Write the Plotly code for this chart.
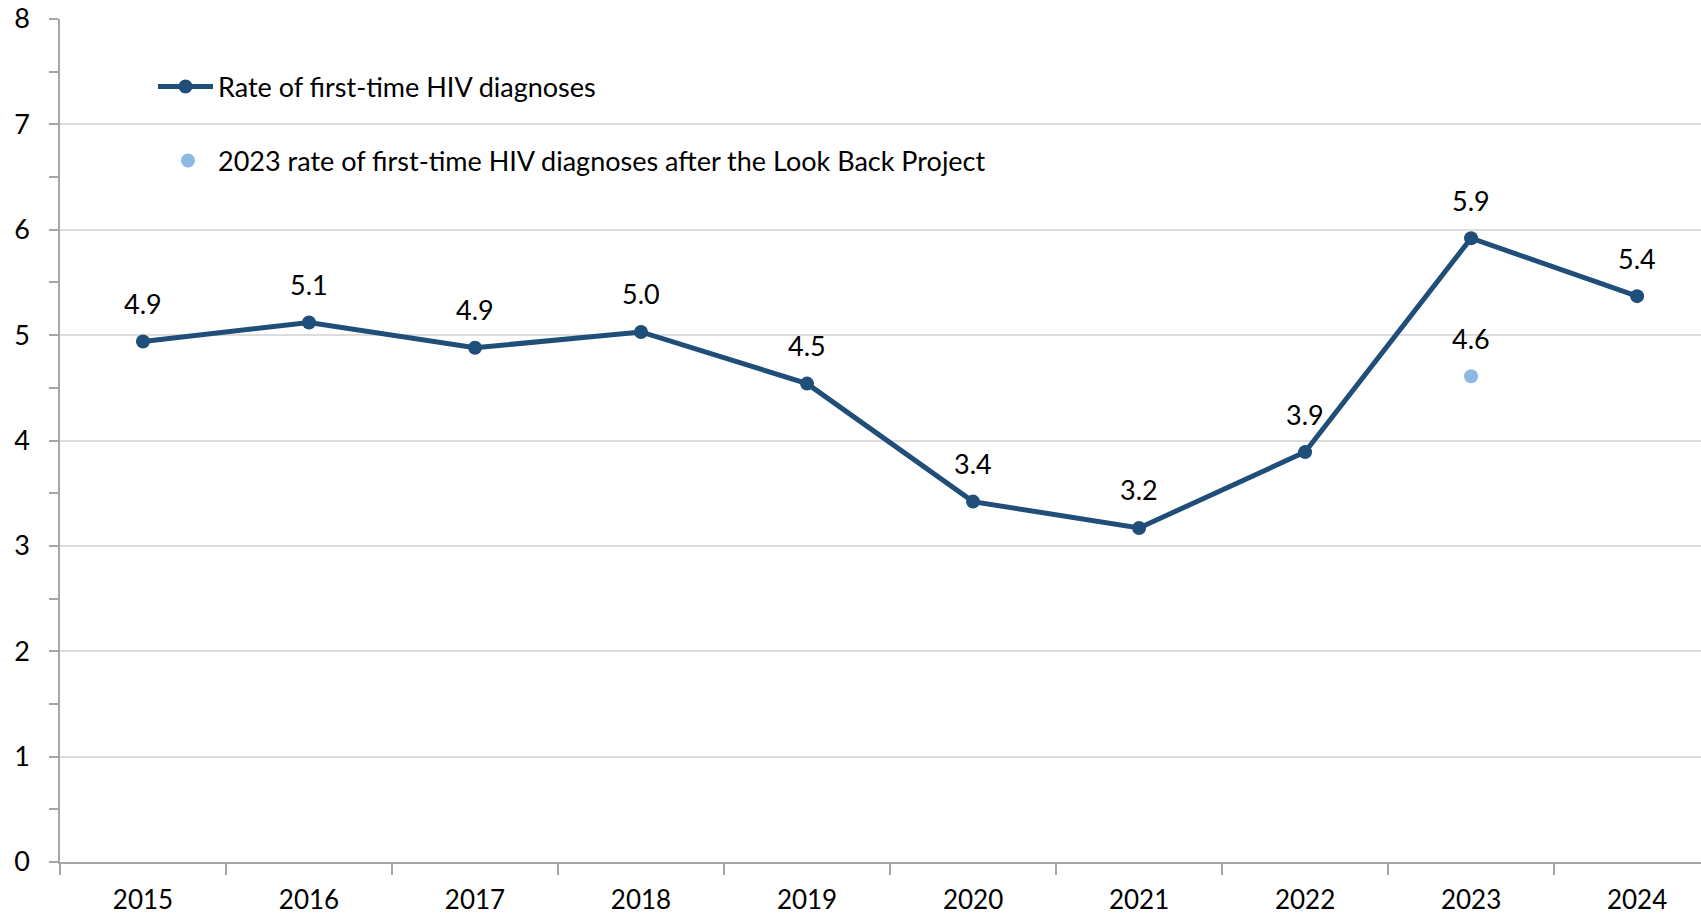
import plotly.graph_objects as go

years = ["2015", "2016", "2017", "2018", "2019", "2020", "2021", "2022", "2023", "2024"]
rates = [4.94, 5.12, 4.88, 5.03, 4.54, 3.42, 3.17, 3.89, 5.92, 5.37]
lookback_year = ["2023"]
lookback_rate = [4.61]

series_name = "Rate of first-time HIV diagnoses"
lookback_name = "2023 rate of first-time HIV diagnoses after the Look Back Project"
y_ticks = [0, 1, 2, 3, 4, 5, 6, 7, 8]

DARK = "#1F4E79"
LIGHT = "#8DB9E3"
FONT = "Lato"

W, H = 1701, 915
L, T, B = 60, 19, 53
PW, PH = W - L, H - T - B

fig = go.Figure()
fig.add_trace(go.Scatter(
    x=years, y=rates, mode="lines+markers", name=series_name,
    line=dict(color=DARK, width=5), marker=dict(color=DARK, size=14),
    legend="legend", cliponaxis=False,
))
fig.add_trace(go.Scatter(
    x=lookback_year, y=lookback_rate, mode="markers", name=lookback_name,
    marker=dict(color=LIGHT, size=14), legend="legend2", cliponaxis=False,
))

for xs, ys in ((years, rates), (lookback_year, lookback_rate)):
    for xv, yv in zip(xs, ys):
        fig.add_annotation(x=years.index(xv), y=yv, text=f"{yv:.1f}", showarrow=False,
                           xref="x", yref="y", yshift=38,
                           font=dict(family=FONT, size=27, color="#000000"))

fig.update_layout(
    width=W, height=H,
    margin=dict(l=L, r=0, t=T, b=B, autoexpand=False),
    paper_bgcolor="white", plot_bgcolor="white",
    font=dict(family=FONT, size=27, color="#000000"),
    showlegend=True,
    legend=dict(x=(153 - L) / PW, y=(H - B - 87) / PH, xanchor="left", yanchor="middle",
                bgcolor="rgba(0,0,0,0)", font=dict(family=FONT, size=27), itemwidth=55),
    legend2=dict(x=(158 - L) / PW, y=(H - B - 161) / PH, xanchor="left", yanchor="middle",
                 bgcolor="rgba(0,0,0,0)", font=dict(family=FONT, size=27), itemwidth=50),
)
fig.update_xaxes(
    type="category", range=[-0.5, 9.385], tickson="boundaries",
    ticks="outside", ticklen=11, tickcolor="#A6A6A6", tickwidth=1.5,
    showline=True, linecolor="#A6A6A6", linewidth=1.5,
    showgrid=False, ticklabelstandoff=14,
    tickfont=dict(family=FONT, size=26),
)
fig.update_yaxes(
    range=[0, 8], tickvals=y_ticks, ticks="outside", ticklen=9,
    tickcolor="#A6A6A6", tickwidth=1.5,
    showline=True, linecolor="#A6A6A6", linewidth=1.5,
    showgrid=True, gridcolor="#DCDCDC", gridwidth=1.5, zeroline=False,
    minor=dict(dtick=0.5, ticks="outside", ticklen=9, tickcolor="#A6A6A6", tickwidth=1.5, showgrid=False),
    ticklabelstandoff=14, tickfont=dict(family=FONT, size=27),
)

fig.write_html(
    "out.html",
    config={"displayModeBar": False},
    post_script="document.body.style.margin='0';document.body.style.overflow='hidden';",
)
